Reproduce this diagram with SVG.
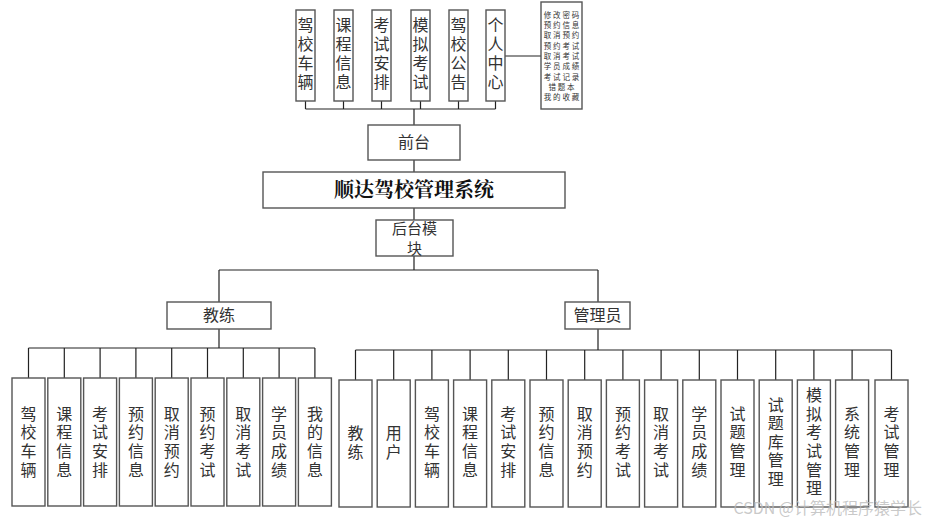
<svg xmlns="http://www.w3.org/2000/svg" width="926" height="521" viewBox="0 0 926 521">
<style>
.box{fill:#fff;stroke:#555;stroke-width:1.4}
.ln{fill:none;stroke:#222;stroke-width:1.2}
.t{font-family:"Noto Sans CJK SC","Liberation Sans",sans-serif;font-size:16px;fill:#333;text-anchor:middle}
.v{font-family:"Noto Sans CJK SC","Liberation Sans",sans-serif;font-size:16px;fill:#333;text-anchor:middle;writing-mode:vertical-rl;letter-spacing:2.6px}
.vt{letter-spacing:3px}
.s{font-family:"Noto Sans CJK SC","Liberation Sans",sans-serif;font-size:7.5px;letter-spacing:1.8px;fill:#333;text-anchor:middle}
.title{font-family:"Noto Serif CJK SC","Noto Sans CJK SC",serif;font-size:20px;font-weight:bold;fill:#111;text-anchor:middle}
.wm{font-family:"Noto Sans CJK SC","Liberation Sans",sans-serif;font-size:16px;fill:#bbb;fill-opacity:0.8;text-anchor:end}
</style>
<rect width="926" height="521" fill="#fff"/>

<g id="connectors">
  <path class="ln" d="M305.5,101V109M343.5,101V109M381.5,101V109M420.5,101V109M458.5,101V109M495.5,101V109M305.5,109H495.5M414,109V125"/>
  <path class="ln" d="M505,56H541"/>
  <path class="ln" d="M414,160V172M414,208V220M414,256V270M219,270H598M219,270V302M598,270V302"/>
  <path class="ln" d="M219,329V348M28.5,348H315M28.5,348V378M64.3,348V378M100.1,348V378M135.9,348V378M171.7,348V378M207.5,348V378M243.3,348V378M279.1,348V378M314.9,348V378"/>
  <path class="ln" d="M598,329V350M355.5,350H891.5M355.5,350V380M393.7,350V380M431.9,350V380M470.1,350V380M508.3,350V380M546.5,350V380M584.7,350V380M622.9,350V380M661.1,350V380M699.3,350V380M737.5,350V380M775.7,350V380M813.9,350V380M852.1,350V380M891.5,350V380"/>
</g>

<g id="top1"><rect class="box" x="296" y="10" width="19" height="91"/><text class="v vt" x="305.5" y="55">驾校车辆</text></g>
<g id="top2"><rect class="box" x="334" y="10" width="19" height="91"/><text class="v vt" x="343.5" y="55">课程信息</text></g>
<g id="top3"><rect class="box" x="372" y="10" width="19" height="91"/><text class="v vt" x="381.5" y="55">考试安排</text></g>
<g id="top4"><rect class="box" x="411" y="10" width="19" height="91"/><text class="v vt" x="420.5" y="55">模拟考试</text></g>
<g id="top5"><rect class="box" x="449" y="10" width="19" height="91"/><text class="v vt" x="458.5" y="55">驾校公告</text></g>
<g id="top6"><rect class="box" x="486" y="10" width="19" height="91"/><text class="v vt" x="495.5" y="55">个人中心</text></g>
<g id="top7"><rect class="box" x="541" y="2" width="41" height="107"/>
<text class="s" x="562.4" y="17.8">修改密码</text>
<text class="s" x="562.4" y="28.1">预约信息</text>
<text class="s" x="562.4" y="38.4">取消预约</text>
<text class="s" x="562.4" y="48.7">预约考试</text>
<text class="s" x="562.4" y="59">取消考试</text>
<text class="s" x="562.4" y="69.3">学员成绩</text>
<text class="s" x="562.4" y="79.6">考试记录</text>
<text class="s" x="562.4" y="89.9">错题本</text>
<text class="s" x="562.4" y="100.2">我的收藏</text>
</g>

<g id="qiantai"><rect class="box" x="368" y="125" width="92" height="35"/><text class="t" x="414" y="148">前台</text></g>
<g id="system"><rect class="box" x="263" y="172" width="302" height="36"/><text class="title" x="414" y="197">顺达驾校管理系统</text></g>
<g id="houtai"><rect class="box" x="376" y="220" width="77" height="36"/><text class="t" style="font-size:15px" x="414.5" y="234">后台模</text><text class="t" style="font-size:15px" x="414.5" y="254">块</text></g>

<g id="coach"><rect class="box" x="167" y="302" width="104" height="27"/><text class="t" x="219" y="321">教练</text></g>
<g id="admin"><rect class="box" x="565" y="302" width="65" height="27"/><text class="t" x="597.5" y="321">管理员</text></g>

<g id="c1"><rect class="box" x="12" y="378" width="33" height="128"/><text class="v" x="28.5" y="443">驾校车辆</text></g>
<g id="c2"><rect class="box" x="47.8" y="378" width="33" height="128"/><text class="v" x="64.3" y="443">课程信息</text></g>
<g id="c3"><rect class="box" x="83.6" y="378" width="33" height="128"/><text class="v" x="100.1" y="443">考试安排</text></g>
<g id="c4"><rect class="box" x="119.4" y="378" width="33" height="128"/><text class="v" x="135.9" y="443">预约信息</text></g>
<g id="c5"><rect class="box" x="155.2" y="378" width="33" height="128"/><text class="v" x="171.7" y="443">取消预约</text></g>
<g id="c6"><rect class="box" x="191" y="378" width="33" height="128"/><text class="v" x="207.5" y="443">预约考试</text></g>
<g id="c7"><rect class="box" x="226.8" y="378" width="33" height="128"/><text class="v" x="243.3" y="443">取消考试</text></g>
<g id="c8"><rect class="box" x="262.6" y="378" width="33" height="128"/><text class="v" x="279.1" y="443">学员成绩</text></g>
<g id="c9"><rect class="box" x="298.4" y="378" width="33" height="128"/><text class="v" x="314.9" y="443">我的信息</text></g>

<g id="a1"><rect class="box" x="339" y="380" width="33" height="127"/><text class="v" x="355.5" y="444">教练</text></g>
<g id="a2"><rect class="box" x="377.2" y="380" width="33" height="127"/><text class="v" x="393.7" y="444">用户</text></g>
<g id="a3"><rect class="box" x="415.4" y="380" width="33" height="127"/><text class="v" x="431.9" y="443">驾校车辆</text></g>
<g id="a4"><rect class="box" x="453.6" y="380" width="33" height="127"/><text class="v" x="470.1" y="443">课程信息</text></g>
<g id="a5"><rect class="box" x="491.8" y="380" width="33" height="127"/><text class="v" x="508.3" y="443">考试安排</text></g>
<g id="a6"><rect class="box" x="530" y="380" width="33" height="127"/><text class="v" x="546.5" y="443">预约信息</text></g>
<g id="a7"><rect class="box" x="568.2" y="380" width="33" height="127"/><text class="v" x="584.7" y="443">取消预约</text></g>
<g id="a8"><rect class="box" x="606.4" y="380" width="33" height="127"/><text class="v" x="622.9" y="443">预约考试</text></g>
<g id="a9"><rect class="box" x="644.6" y="380" width="33" height="127"/><text class="v" x="661.1" y="443">取消考试</text></g>
<g id="a10"><rect class="box" x="682.8" y="380" width="33" height="127"/><text class="v" x="699.3" y="443">学员成绩</text></g>
<g id="a11"><rect class="box" x="721" y="380" width="33" height="127"/><text class="v" x="737.5" y="443">试题管理</text></g>
<g id="a12"><rect class="box" x="759.2" y="380" width="33" height="127"/><text class="v" x="775.7" y="443">试题库管理</text></g>
<g id="a13"><rect class="box" x="797.4" y="380" width="33" height="127"/><text class="v" x="813.9" y="443">模拟考试管理</text></g>
<g id="a14"><rect class="box" x="835.6" y="380" width="33" height="127"/><text class="v" x="852.1" y="443">系统管理</text></g>
<g id="a15"><rect class="box" x="875" y="380" width="33" height="127"/><text class="v" x="891.5" y="443">考试管理</text></g>

<text class="wm" x="922" y="514">CSDN @计算机程序猿学长</text>
</svg>
